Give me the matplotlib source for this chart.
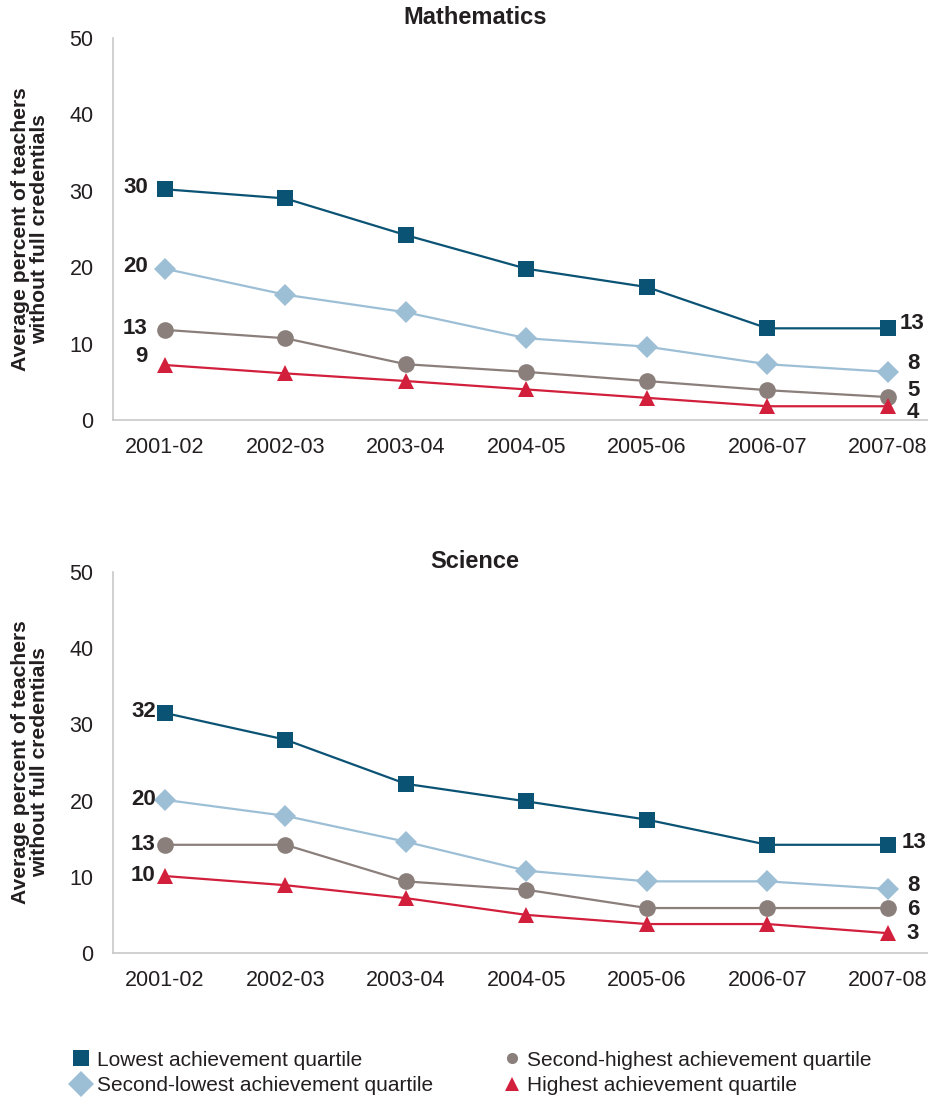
import matplotlib.pyplot as plt
from matplotlib.lines import Line2D

plt.rcParams['font.family'] = ['Liberation Sans', 'DejaVu Sans']

# school years on the x axis
years = ['2001-02', '2002-03', '2003-04', '2004-05', '2005-06', '2006-07', '2007-08']

# Mathematics
math_lowest = [30.2, 29.0, 24.2, 19.8, 17.4, 12.0, 12.0]
math_second_lowest = [19.8, 16.4, 14.1, 10.7, 9.6, 7.3, 6.3]
math_second_highest = [11.8, 10.7, 7.3, 6.3, 5.1, 3.9, 3.0]
math_highest = [7.2, 6.1, 5.1, 4.0, 2.9, 1.8, 1.8]

# Science
sci_lowest = [31.5, 28.0, 22.2, 19.9, 17.5, 14.2, 14.2]
sci_second_lowest = [20.1, 18.0, 14.6, 10.8, 9.4, 9.4, 8.4]
sci_second_highest = [14.2, 14.2, 9.4, 8.3, 5.9, 5.9, 5.9]
sci_highest = [10.1, 8.9, 7.2, 5.0, 3.8, 3.8, 2.6]

# printed start / end labels
math_start_labels = ['30', '20', '13', '9']
math_end_labels = ['13', '8', '5', '4']
sci_start_labels = ['32', '20', '13', '10']
sci_end_labels = ['13', '8', '6', '3']

series_names = ['Lowest achievement quartile', 'Second-lowest achievement quartile',
                'Second-highest achievement quartile', 'Highest achievement quartile']
colors = ['#0b5374', '#9dbfd6', '#8a7f7b', '#d21f3c']
markers = ['s', 'D', 'o', '^']
msizes = [11, 11, 12, 12]
txt = '#231f20'

fig = plt.figure(figsize=(9.29, 10.99), dpi=100)
ax1 = fig.add_axes([113/929, 679/1099, 816/929, 382/1099])
ax2 = fig.add_axes([113/929, 146/1099, 816/929, 381/1099])

x = list(range(len(years)))

# label offsets in pixels (dx, dy) for start and end labels
math_start_off = [(-17, 2), (-17, 2), (-17, 1), (-17, 8)]
math_end_off = [(12, 5), (25, 8), (25, 7), (25, -6)]
sci_start_off = [(-9, 1), (-9, 0), (-9, 0), (-9, 1)]
sci_end_off = [(14, 2), (25, 3), (25, -1), (25, 0)]


def draw(ax, data, start_labels, end_labels, s_off, e_off, title, title_y):
    for i, vals in enumerate(data):
        ax.plot(x, vals, color=colors[i], lw=1.6, marker=markers[i],
                markersize=msizes[i], markeredgewidth=0, zorder=3)
        dx, dy = s_off[i]
        ax.annotate(start_labels[i], (x[0], vals[0]), xytext=(dx*0.72, dy*0.72),
                    textcoords='offset points', ha='right', va='center',
                    fontsize=16, fontweight='bold', color=txt)
        dx, dy = e_off[i]
        ax.annotate(end_labels[i], (x[-1], vals[-1]), xytext=(dx*0.72, dy*0.72),
                    textcoords='offset points', ha='center' if dx > 20 else 'left',
                    va='center', fontsize=16, fontweight='bold', color=txt,
                    annotation_clip=False)
    ax.set_ylim(0, 50)
    ax.set_xlim(-0.43, 6.34)
    ax.set_yticks([0, 10, 20, 30, 40, 50])
    ax.set_xticks(x)
    ax.set_xticklabels(years)
    ax.tick_params(length=0, labelsize=15.5, colors=txt, pad=12)
    ax.tick_params(axis='y', pad=14)
    for s in ['top', 'right']:
        ax.spines[s].set_visible(False)
    for s in ['left', 'bottom']:
        ax.spines[s].set_color('#c8c8c8')
        ax.spines[s].set_linewidth(1.2)
    ax.patch.set_alpha(0)
    fig.text(475/929, title_y, title, ha='center', va='center',
             fontsize=17, fontweight='bold', color=txt)
    yc = ax.get_position().y0 + ax.get_position().height/2
    fig.text(30/929, yc, 'Average percent of teachers\nwithout full credentials',
             rotation=90, ha='center', va='center', fontsize=15.2,
             fontweight='bold', color=txt, linespacing=1.0)


draw(ax1, [math_lowest, math_second_lowest, math_second_highest, math_highest],
     math_start_labels, math_end_labels, math_start_off, math_end_off,
     'Mathematics', 1 - 18/1099)
draw(ax2, [sci_lowest, sci_second_lowest, sci_second_highest, sci_highest],
     sci_start_labels, sci_end_labels, sci_start_off, sci_end_off,
     'Science', 1 - 561/1099)

handles = [Line2D([], [], ls='none', marker=markers[i], color=colors[i],
                  markersize=[11, 13, 8, 10][i], markeredgewidth=0) for i in range(4)]
fig.legend(handles, series_names, loc='upper left', ncol=2,
           bbox_to_anchor=(58/929, 1 - 1036/1099), frameon=False,
           fontsize=15, handlelength=0.8, handletextpad=0.35,
           columnspacing=3.4, labelspacing=0.3, borderpad=0.2,
           labelcolor=txt)

fig.savefig('out.png', dpi=100)
